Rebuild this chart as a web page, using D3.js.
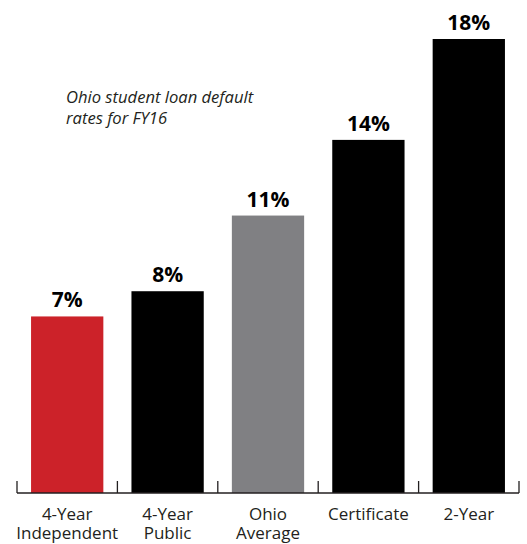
<!DOCTYPE html>
<html>
<head>
<meta charset="utf-8">
<script src="https://cdn.jsdelivr.net/npm/d3@7"></script>
<style>
  html, body { margin: 0; padding: 0; background: #fff; }
  svg { display: block; }
</style>
</head>
<body>
<script>
const categories = [["4-Year", "Independent"], ["4-Year", "Public"], ["Ohio", "Average"], ["Certificate"], ["2-Year"]];
const values = [7, 8, 11, 14, 18];
const barColors = ["#cc2229", "#000000", "#808083", "#000000", "#000000"];
const titleLines = ["Ohio student loan default", "rates for FY16"];

const W = 527, H = 544;
const svg = d3.select("body").append("svg").attr("width", W).attr("height", H);

const keys = categories.map(c => c.join(" "));
const x = d3.scaleBand().domain(keys).range([17, 519]).padding(0);
const y = d3.scaleLinear().domain([0, 18]).range([493, 39]);
const barFrac = 0.72;
const bw = x.bandwidth() * barFrac;
const off = (x.bandwidth() - bw) / 2;

svg.selectAll("rect.bar").data(values).enter().append("rect")
  .attr("class", "bar")
  .attr("x", (d, i) => x(keys[i]) + off)
  .attr("width", bw)
  .attr("y", d => y(d))
  .attr("height", d => y(0) - y(d))
  .attr("fill", (d, i) => barColors[i]);

// axis with ticks at band boundaries
const axisG = svg.append("g");
axisG.append("line")
  .attr("x1", x.range()[0]).attr("x2", x.range()[1])
  .attr("y1", y(0)).attr("y2", y(0))
  .attr("stroke", "#231f20").attr("stroke-width", 1.3);
const tickPos = keys.map(k => x(k)).concat([x.range()[1]]);
axisG.selectAll("line.tick").data(tickPos).enter().append("line")
  .attr("x1", d => d).attr("x2", d => d)
  .attr("y1", y(0) - 12).attr("y2", y(0))
  .attr("stroke", "#231f20").attr("stroke-width", 1.3);

// value labels
svg.selectAll("text.val").data(values).enter().append("text")
  .attr("x", (d, i) => x(keys[i]) + x.bandwidth() / 2)
  .attr("y", d => y(d) - 9)
  .attr("text-anchor", "middle")
  .attr("font-family", "'Open Sans', sans-serif")
  .attr("font-weight", "bold")
  .attr("font-size", 21)
  .attr("fill", "#000")
  .text(d => d + "%");

// category labels
const catG = svg.selectAll("text.cat").data(categories).enter().append("text")
  .attr("x", (d, i) => x(keys[i]) + x.bandwidth() / 2)
  .attr("y", 520)
  .attr("text-anchor", "middle")
  .attr("font-family", "'Open Sans', sans-serif")
  .attr("font-size", 17)
  .attr("fill", "#231f20");
catG.each(function(d, i) {
  const t = d3.select(this);
  d.forEach((line, j) => {
    t.append("tspan").attr("x", x(keys[i]) + x.bandwidth() / 2)
      .attr("dy", j === 0 ? 0 : 19).text(line);
  });
});

// title
svg.append("text")
  .attr("x", 66).attr("y", 102.5)
  .attr("font-family", "'Open Sans', sans-serif")
  .attr("font-style", "italic")
  .attr("font-size", 16.6)
  .attr("fill", "#231f20")
  .selectAll("tspan").data(titleLines).enter().append("tspan")
  .attr("x", 66).attr("dy", (d, i) => i === 0 ? 0 : 21).text(d => d);
</script>
</body>
</html>
